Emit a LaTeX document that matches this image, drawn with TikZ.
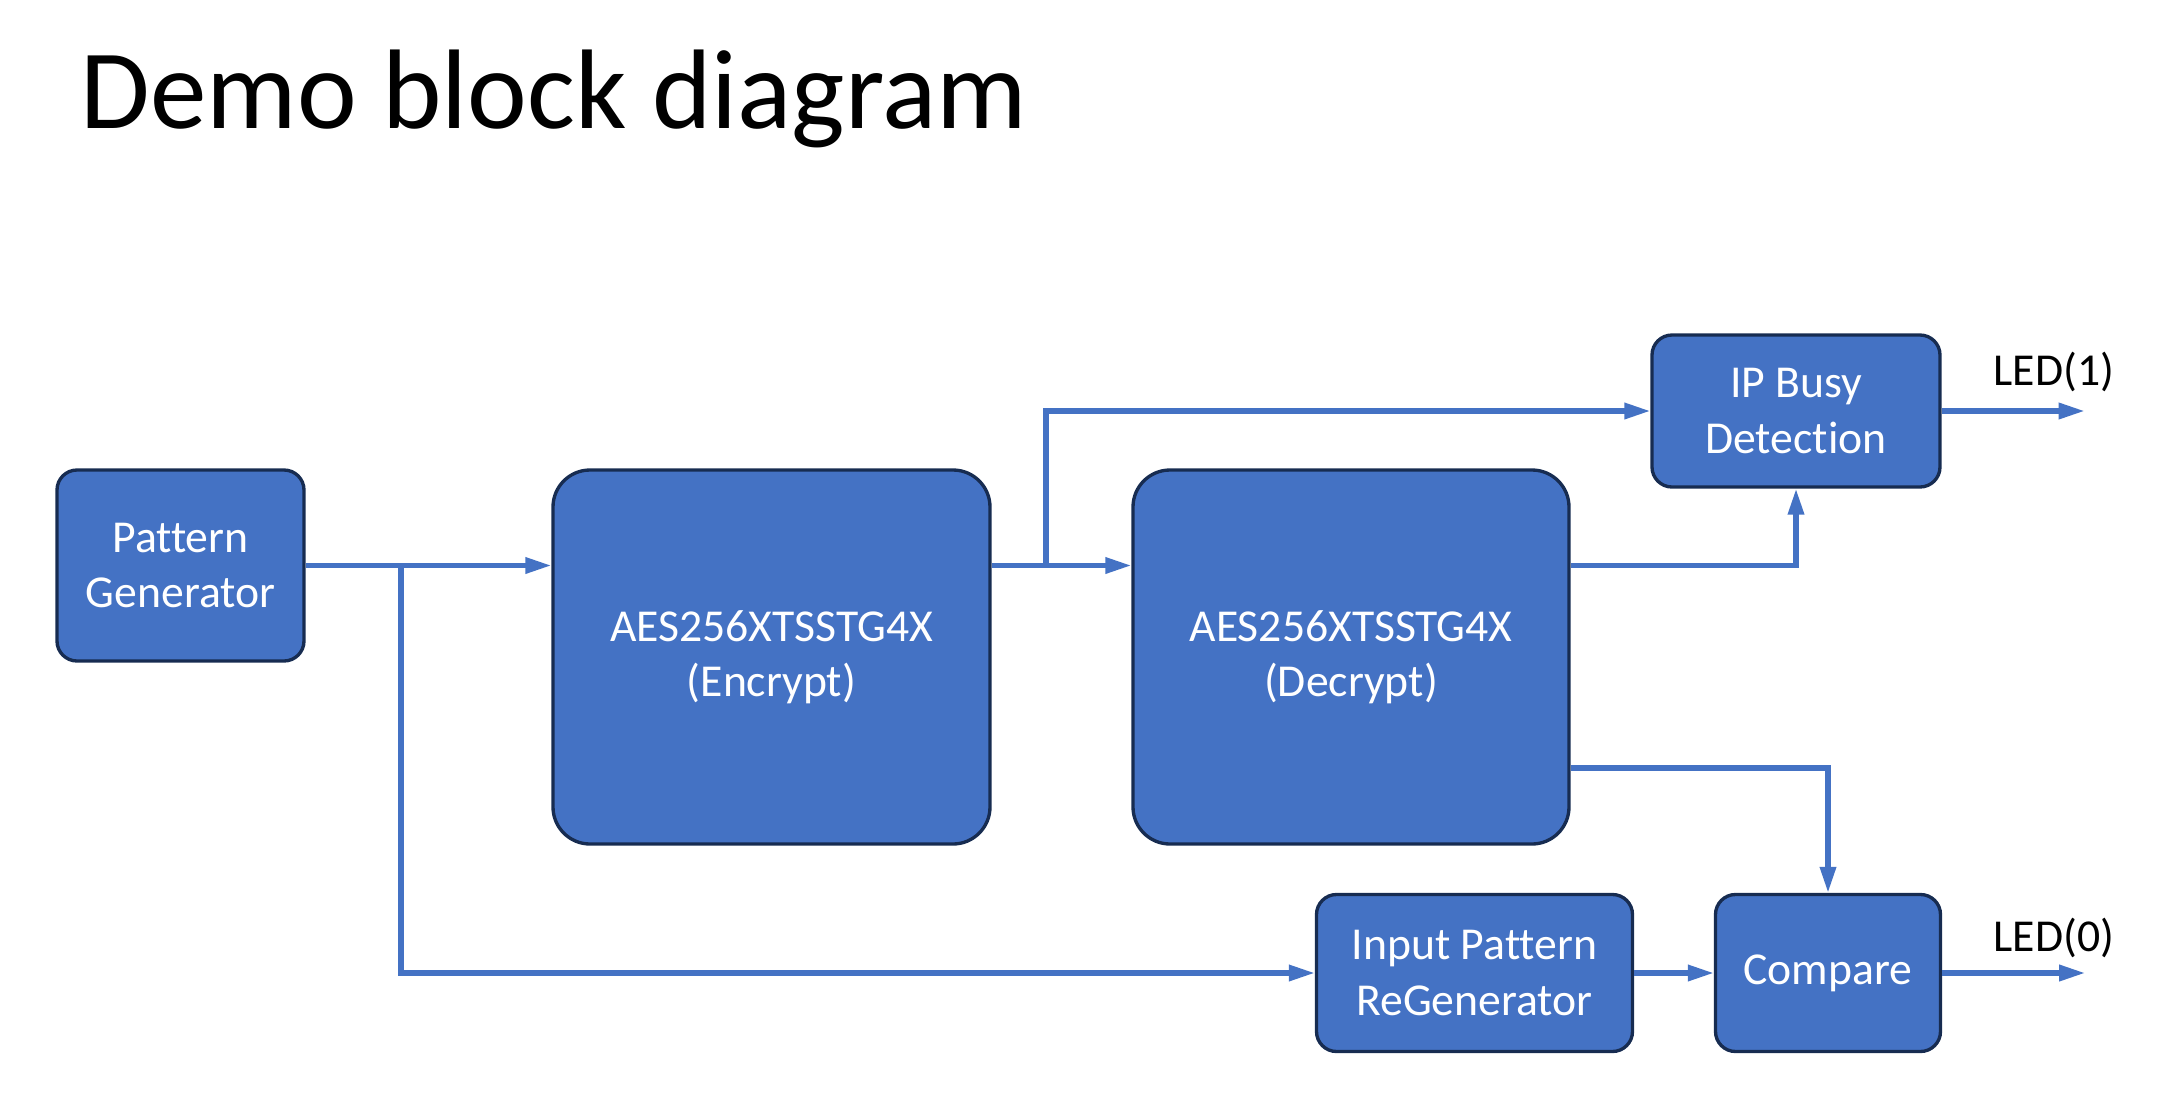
\documentclass[tikz,border=0pt]{standalone}
\usepackage{fontspec}
\setmainfont{Carlito}[Ligatures=CommonOff]
\usetikzlibrary{arrows.meta}
\definecolor{boxfill}{HTML}{4472C4}
\definecolor{boxline}{HTML}{172C51}
\definecolor{wire}{HTML}{4472C4}
\begin{document}
\begin{tikzpicture}[
    block/.style={draw=boxline, fill=boxfill, line width=0.95pt, text=white, align=center,
      font=\fontsize{13}{15.7}\selectfont, inner sep=0pt, rounded corners=2mm},
    bigblock/.style={block, rounded corners=3.7mm},
    flow/.style={draw=wire, line width=1.45pt, -{Triangle[length=2.6mm,width=1.55mm]}},
    ledlabel/.style={font=\fontsize{13}{15.7}\selectfont, inner sep=0pt, anchor=base west}
  ]
    \useasboundingbox (0,0) rectangle (21.70,-11.08);
    \node [font=\fontsize{32.2}{38}\selectfont, inner sep=0pt, anchor=base west] (title) at (0.80,-1.28) {Demo block diagram};

    \node [block, minimum width=2.47cm, minimum height=1.91cm] (pattern) at (1.805,-5.655) {Pattern\\Generator};
    \node [bigblock, minimum width=4.37cm, minimum height=3.74cm] (enc) at (7.715,-6.57) {AES256XTSSTG4X\\(Encrypt)};
    \node [bigblock, minimum width=4.36cm, minimum height=3.74cm] (dec) at (13.51,-6.57) {AES256XTSSTG4X\\(Decrypt)};
    \node [block, minimum width=2.88cm, minimum height=1.52cm] (busy) at (17.96,-4.11) {IP Busy\\Detection};
    \node [block, minimum width=3.16cm, minimum height=1.57cm] (regen) at (14.745,-9.73) {Input Pattern\\ReGenerator};
    \node [block, minimum width=2.25cm, minimum height=1.57cm] (compare) at (18.28,-9.73) {Compare};

    \node [ledlabel] (led1) at (19.93,-3.85) {LED(1)};
    \node [ledlabel] (led0) at (19.93,-9.51) {LED(0)};

    \coordinate (tapin) at (4.01,-5.655);
    \coordinate (tapout) at (10.46,-5.655);
    \path (busy.east) ++(1.43,0) coordinate (led1end);
    \path (compare.east) ++(1.43,0) coordinate (led0end);

  \path[flow] (pattern.east) -- (pattern.east -| enc.west);
  \path[flow] (pattern.east) -- (tapin) |- (regen.west);
  \path[flow] (pattern.east -| enc.east) -- (pattern.east -| dec.west);
  \path[flow] (pattern.east -| enc.east) -- (tapout) |- (busy.west);
  \path[flow] (pattern.east -| dec.east) -| (busy.south);
  \path[flow] ([yshift=-1.11cm]dec.east) -| (compare.north);
  \path[flow] (regen.east) -- (compare.west);
  \path[flow] (busy.east) -- (led1end);
  \path[flow] (compare.east) -- (led0end);
\end{tikzpicture}
\end{document}
